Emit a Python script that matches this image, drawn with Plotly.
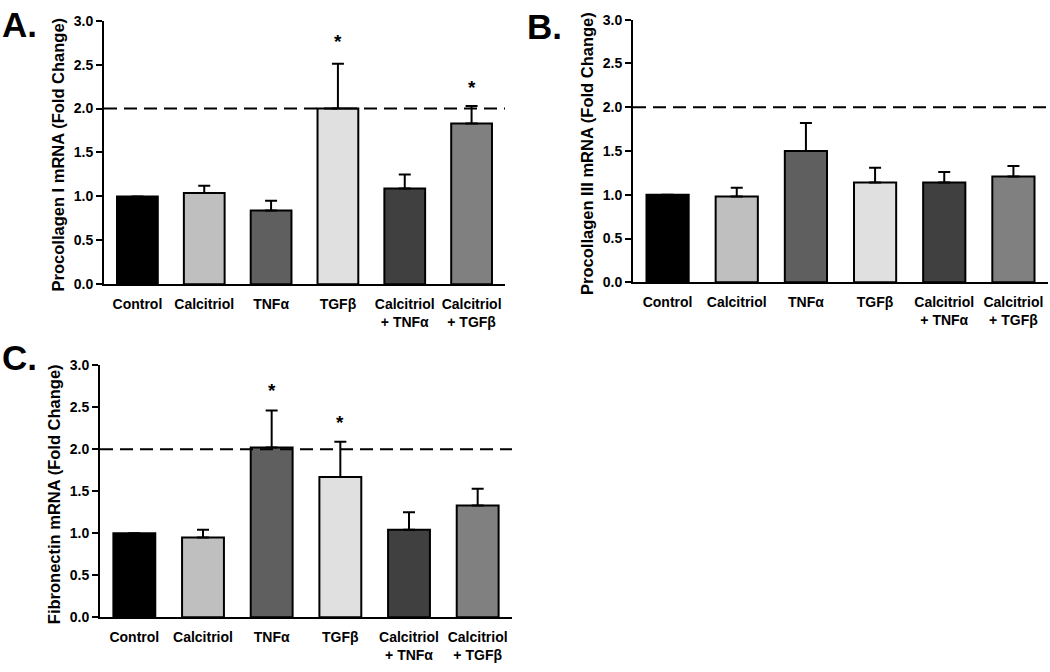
import plotly.graph_objects as go

# ---------------- data ----------------
categories = ["Control", "Calcitriol", "TNFα", "TGFβ",
              "Calcitriol<br>+ TNFα", "Calcitriol<br>+ TGFβ"]
bar_colors = ["#000000", "#bfbfbf", "#5f5f5f", "#e0e0e0", "#404040", "#808080"]

procollagen1_mean = [1.00, 1.04, 0.84, 2.00, 1.09, 1.83]
procollagen1_err = [0.00, 0.08, 0.11, 0.51, 0.16, 0.20]
procollagen1_star = [None, None, None, 2.76, None, 2.24]

procollagen3_mean = [1.00, 0.98, 1.50, 1.14, 1.14, 1.21]
procollagen3_err = [0.00, 0.10, 0.32, 0.17, 0.12, 0.12]
procollagen3_star = [None, None, None, None, None, None]

fibronectin_mean = [1.00, 0.95, 2.02, 1.67, 1.04, 1.33]
fibronectin_err = [0.00, 0.09, 0.44, 0.42, 0.21, 0.20]
fibronectin_star = [None, None, 2.70, 2.32, None, None]

y_ticks = [0.0, 0.5, 1.0, 1.5, 2.0, 2.5, 3.0]
threshold = 2.0

W, H = 1050, 672


def px_x(px):
    return px / W


def px_y(py):
    return 1 - py / H


# panel boxes in screen pixels: left, right, top, bottom
panels = [
    dict(label="A.", title="Procollagen I mRNA (Fold Change)", mean=procollagen1_mean,
         err=procollagen1_err, star=procollagen1_star, box=(104, 505, 13, 283),
         title_x=58, lab_x=19, lab_y=17),
    dict(label="B.", title="Procollagen III mRNA (Fold Change)", mean=procollagen3_mean,
         err=procollagen3_err, star=procollagen3_star, box=(633, 1048, 12, 281),
         title_x=587, lab_x=544, lab_y=19),
    dict(label="C.", title="Fibronectin mRNA (Fold Change)", mean=fibronectin_mean,
         err=fibronectin_err, star=fibronectin_star, box=(100, 512, 366, 624),
         title_x=54, lab_x=19, lab_y=358),
]

FONT = "Liberation Sans, Arial, sans-serif"

fig = go.Figure()
layout = dict(
    width=W, height=H, margin=dict(l=0, r=0, t=0, b=0),
    paper_bgcolor="white", plot_bgcolor="white", showlegend=False,
    font=dict(family=FONT, color="black", size=14),
)
annotations = []
shapes = []

for i, p in enumerate(panels):
    n = "" if i == 0 else str(i + 1)
    xa, ya = "x" + n, "y" + n
    l, r, t, b = p["box"]
    fig.add_trace(go.Bar(
        x=list(range(len(categories))), y=p["mean"], xaxis=xa, yaxis=ya,
        marker=dict(color=bar_colors, line=dict(color="black", width=2)),
        width=0.61,
        error_y=dict(type="data", symmetric=False, array=p["err"],
                     arrayminus=[0] * len(p["err"]), color="black",
                     thickness=2, width=6),
        hoverinfo="skip",
    ))
    layout["xaxis" + n] = dict(
        domain=[px_x(l), px_x(r)], anchor=ya, range=[-0.5, 5.5],
        tickmode="array", tickvals=list(range(len(categories))), ticktext=categories,
        showline=True, linecolor="black", linewidth=2,
        ticks="outside", ticklen=6, tickcolor="rgba(0,0,0,0)",
        showgrid=False, zeroline=False,
        tickfont=dict(family=FONT, size=14, weight="bold", color="black"),
    )
    layout["yaxis" + n] = dict(
        domain=[px_y(b), px_y(t)], anchor=xa, range=[0, 3], tickmode="array",
        tickvals=y_ticks, tickformat=".1f", showline=True, linecolor="black", linewidth=2,
        ticks="outside", ticklen=6, tickwidth=1.5, tickcolor="black",
        showgrid=False, zeroline=False,
        tickfont=dict(family=FONT, size=14, weight="bold", color="black"),
    )
    shapes.append(dict(type="line", xref=xa + " domain", yref=ya, x0=0, x1=1,
                       y0=threshold, y1=threshold,
                       line=dict(color="black", width=2, dash="13px,7px")))
    for k, s in enumerate(p["star"]):
        if s is not None:
            annotations.append(dict(x=k, y=s, xref=xa, yref=ya, text="*", showarrow=False,
                                    xanchor="center", yanchor="middle",
                                    font=dict(family=FONT, size=19, weight="bold")))
    annotations.append(dict(x=px_x(p["title_x"]), y=px_y((t + b) / 2 + 3), xref="paper",
                            yref="paper", text=p["title"], textangle=-90, showarrow=False,
                            xanchor="center", yanchor="middle",
                            font=dict(family=FONT, size=16.5, weight="bold")))
    annotations.append(dict(x=px_x(p["lab_x"]), y=px_y(p["lab_y"]), xref="paper",
                            yref="paper", text=p["label"], showarrow=False,
                            xanchor="center", yanchor="middle",
                            font=dict(family=FONT, size=35, weight="bold")))

layout["annotations"] = annotations
layout["shapes"] = shapes
fig.update_layout(**layout)
fig.write_html("out.html", config={"displayModeBar": False},
               post_script="document.body.style.margin='0';document.body.style.overflow='hidden';")
